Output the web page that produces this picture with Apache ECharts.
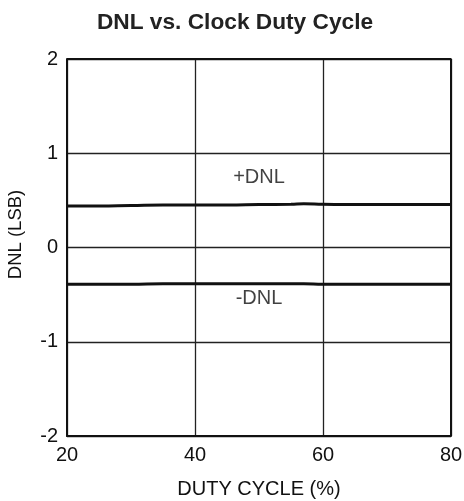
<!DOCTYPE html>
<html>
<head>
<meta charset="utf-8">
<script src="https://cdn.jsdelivr.net/npm/echarts@6/dist/echarts.min.js"></script>
<style>
  html, body { margin: 0; padding: 0; background: #fff; }
  #chart { width: 464px; height: 501px; }
</style>
</head>
<body>
<div id="chart"></div>
<script>
// duty cycle (%)
var dutyCycle = [20, 25, 30, 35, 40, 45, 50, 55, 57, 60, 65, 70, 75, 80]
// DNL values (LSB)
var posDnl = [0.44, 0.44, 0.445, 0.45, 0.45, 0.45, 0.455, 0.46, 0.465, 0.46, 0.455, 0.455, 0.455, 0.455]
var negDnl = [-0.39, -0.39, -0.39, -0.385, -0.385, -0.385, -0.385, -0.385, -0.385, -0.39, -0.39, -0.39, -0.39, -0.39]
var curveLabels = [
  { text: '+DNL', x: 50, y: 0.74 },
  { text: '-DNL', x: 50, y: -0.54 }
]

var fontName = 'Liberation Sans, Arial, sans-serif'

function pairs(xs, ys) {
  return xs.map(function (x, i) { return [x, ys[i]] })
}

var myChart = echarts.init(document.getElementById('chart'))
var option = {
  animation: false,
  title: {
    text: 'DNL vs. Clock Duty Cycle',
    left: 230,
    top: 6,
    textAlign: 'center',
    textStyle: { fontFamily: fontName, fontSize: 22.7, fontWeight: 'bold', color: '#222' }
  },
  grid: { left: 67, right: 13, top: 59, bottom: 65, outerBoundsMode: 'none' },
  xAxis: {
    type: 'value',
    min: 20, max: 80, interval: 20,
    name: 'DUTY CYCLE (%)',
    nameLocation: 'middle',
    nameGap: 43,
    nameTextStyle: { fontFamily: fontName, fontSize: 20, color: '#111' },
    axisLine: { show: true, onZero: false, lineStyle: { color: '#111', width: 2 } },
    axisTick: { show: false },
    axisLabel: { fontFamily: fontName, fontSize: 20, color: '#111', margin: 9 },
    splitLine: { show: true, lineStyle: { color: '#222', width: 1.3 } }
  },
  yAxis: {
    type: 'value',
    min: -2, max: 2, interval: 1,
    name: 'DNL (LSB)',
    nameLocation: 'middle',
    nameGap: 42,
    nameTextStyle: { fontFamily: fontName, fontSize: 18.5, color: '#111', padding: [0, 0, 0, 26] },
    axisLine: { show: true, lineStyle: { color: '#111', width: 2 } },
    axisTick: { show: false },
    axisLabel: { fontFamily: fontName, fontSize: 20, color: '#111', margin: 9 },
    splitLine: { show: true, lineStyle: { color: '#222', width: 1.3 } }
  },
  series: [
    {
      name: '+DNL', type: 'line', smooth: true, showSymbol: false,
      data: pairs(dutyCycle, posDnl),
      lineStyle: { color: '#111', width: 3 }
    },
    {
      name: '-DNL', type: 'line', smooth: true, showSymbol: false,
      data: pairs(dutyCycle, negDnl),
      lineStyle: { color: '#111', width: 3 }
    },
    {
      // frame top / right edges
      type: 'line', showSymbol: false, silent: true,
      data: [[20, 2], [80, 2], [80, -2]],
      lineStyle: { color: '#111', width: 2 }
    },
    {
      type: 'scatter', symbolSize: 0, silent: true,
      data: curveLabels.map(function (l) { return { value: [l.x, l.y], name: l.text } }),
      label: {
        show: true, position: 'inside', formatter: '{b}',
        fontFamily: fontName, fontSize: 20, color: '#111'
      }
    }
  ]
}
myChart.setOption(option)
</script>
</body>
</html>
